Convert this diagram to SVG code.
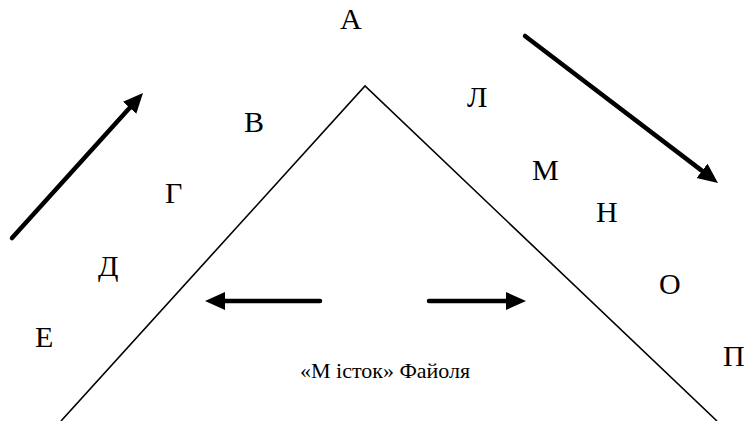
<svg xmlns="http://www.w3.org/2000/svg" width="747" height="421" viewBox="0 0 747 421">
  <style>
    .arr { stroke: #000; stroke-width: 4.5; fill: none; stroke-linecap: round; marker-end: url(#head); }
    .tri { stroke: #000; stroke-width: 1.6; fill: none; }
  </style>
  <defs>
    <marker id="head" markerUnits="userSpaceOnUse" markerWidth="22" markerHeight="20" viewBox="0 0 22 20" refX="10" refY="9" orient="auto">
      <path d="M0,0 L20,9 L0,18 z" fill="#000"/>
    </marker>
  </defs>
  <rect width="747" height="421" fill="#fff"/>
  <g id="triangle">
    <polyline class="tri" points="61,421 365,86 717,421"/>
  </g>
  <g id="connectors">
    <line class="arr" x1="12" y1="238" x2="136.3" y2="100.4"/>
    <line class="arr" x1="525" y1="36" x2="710" y2="176.9"/>
    <line class="arr" x1="320" y1="301" x2="215" y2="301"/>
    <line class="arr" x1="429" y1="301" x2="516" y2="301"/>
  </g>
  <g font-family="'Liberation Serif', 'DejaVu Serif', 'Times New Roman', serif" font-size="30" fill="#000">
    <g id="n-A"><text x="340" y="29">А</text></g>
    <g id="n-V"><text x="244" y="132">В</text></g>
    <g id="n-G"><text x="165" y="203">Г</text></g>
    <g id="n-D"><text x="98" y="276">Д</text></g>
    <g id="n-E"><text x="35" y="347">Е</text></g>
    <g id="n-L"><text x="467" y="107">Л</text></g>
    <g id="n-M"><text x="532" y="180">М</text></g>
    <g id="n-N"><text x="596" y="222">Н</text></g>
    <g id="n-O"><text x="659" y="294">О</text></g>
    <g id="n-P"><text x="723" y="366">П</text></g>
    <g id="caption"><text x="300" y="378" font-size="22">«М істок» Файоля</text></g>
  </g>
</svg>
